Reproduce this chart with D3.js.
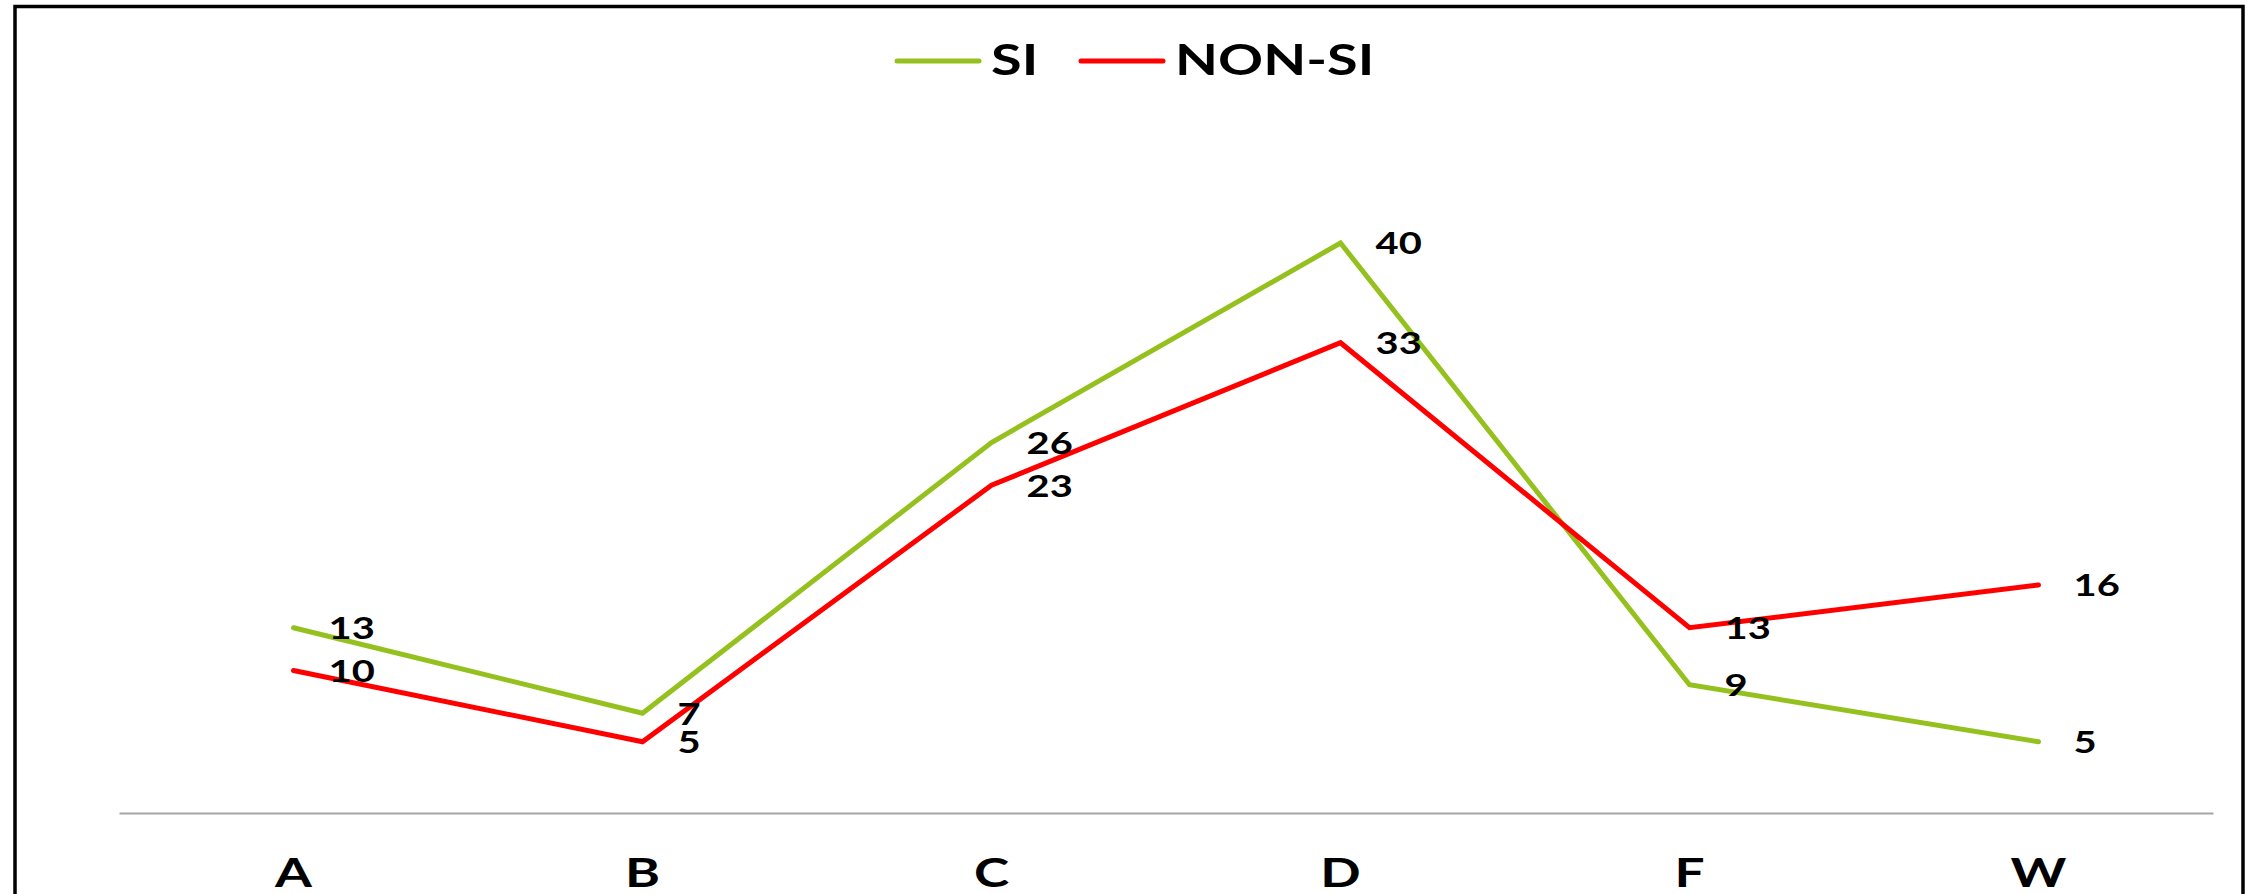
<!DOCTYPE html>
<html>
<head>
<meta charset="utf-8">
<script src="https://cdn.jsdelivr.net/npm/d3@7"></script>
<style>
  html, body { margin: 0; padding: 0; background: #fff; }
  svg { display: block; }
  text { font-family: Lato, "Open Sans", sans-serif; font-weight: 700; fill: #000; }
</style>
</head>
<body>
<svg id="chart" width="2250" height="894"></svg>
<script>
// Categories and series values
const categories = ["A", "B", "C", "D", "F", "W"];
const siValues = [13, 7, 26, 40, 9, 5];
const nonSiValues = [10, 5, 23, 33, 13, 16];
const seriesNames = ["SI", "NON-SI"];
const seriesColors = ["#95c11f", "#ff0000"];

const W = 2250, H = 894;
const stretch = 1.33; // horizontal widening applied to all text

const svg = d3.select("#chart");

// Outer frame
svg.append("rect")
  .attr("x", 15).attr("y", 6.5)
  .attr("width", 2228).attr("height", 920)
  .attr("fill", "none").attr("stroke", "#000").attr("stroke-width", 3.5);

const plot = { left: 119, right: 2213, top: 171.75, bottom: 813 };

const x = d3.scaleBand().domain(categories).range([plot.left, plot.right]);
const y = d3.scaleLinear().domain([0, 45]).range([plot.bottom, plot.top]);
const cx = d => x(d) + x.bandwidth() / 2;

// Helper for widened text
function stretchedText(parent, px, py, str, size, anchor, baseline) {
  const g = parent.append("g").attr("transform", `translate(${px},${py}) scale(${stretch},1)`);
  g.append("text")
    .attr("text-anchor", anchor)
    .attr("dominant-baseline", baseline || "auto")
    .style("font-size", size + "px")
    .text(str);
  return g;
}

// Category axis
const axis = d3.axisBottom(x).tickSize(0).tickPadding(0);
const axisG = svg.append("g").attr("transform", `translate(0,${plot.bottom})`).call(axis);
axisG.select(".domain").attr("stroke", "#a6a6a6").attr("stroke-width", 2);
axisG.selectAll(".tick text").remove();
axisG.selectAll(".tick").each(function(d) {
  stretchedText(d3.select(this), 0, 74, d, 40, "middle");
});

// Lines
const series = [siValues, nonSiValues];
const line = d3.line()
  .x((d, i) => cx(categories[i]))
  .y(d => y(d));

series.forEach((vals, s) => {
  svg.append("path")
    .datum(vals)
    .attr("d", line)
    .attr("fill", "none")
    .attr("stroke", seriesColors[s])
    .attr("stroke-width", 5)
    .attr("stroke-linejoin", "miter")
    .attr("stroke-linecap", "round");
});

// Value labels, right of each point
series.forEach((vals, s) => {
  vals.forEach((v, i) => {
    stretchedText(svg, cx(categories[i]) + 35, y(v), String(v), 30, "start", "central");
  });
});

// Legend
const legendItems = [
  { x1: 897, x2: 979, tx: 991 },
  { x1: 1081, x2: 1163, tx: 1175 }
];
legendItems.forEach((it, s) => {
  svg.append("line")
    .attr("x1", it.x1).attr("x2", it.x2)
    .attr("y1", 61).attr("y2", 61)
    .attr("stroke", seriesColors[s])
    .attr("stroke-width", 5)
    .attr("stroke-linecap", "round");
  stretchedText(svg, it.tx, 75, seriesNames[s], 42, "start");
});
</script>
</body>
</html>
